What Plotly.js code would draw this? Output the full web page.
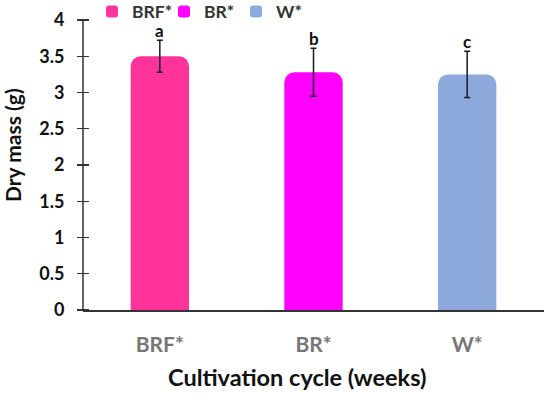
<!DOCTYPE html>
<html><head><meta charset="utf-8">
<script src="https://cdn.plot.ly/plotly-3.0.1.min.js"></script>
<style>html,body{margin:0;padding:0;background:#fff}#c{width:550px;height:393px}</style>
</head><body><div id="c"></div>
<script>
const categories = ["BRF*", "BR*", "W*"];
const values = [3.50, 3.28, 3.25];
const errors = [0.22, 0.33, 0.32];
const letters = ["a", "b", "c"];
const colors = ["#FF3399", "#FF00FF", "#8EA9DB"];
const yTicks = [0, 0.5, 1, 1.5, 2, 2.5, 3, 3.5, 4];
const yTickText = ["0", "0.5", "1", "1.5", "2", "2.5", "3", "3.5", "4"];
const xTitle = "Cultivation cycle (weeks)";
const yTitle = "Dry mass (g)";

const F = "Lato, 'Open Sans', sans-serif";
const H = 393, T = 20, B = 83, L = 83, R = 6;
const plotH = H - T - B, plotW = 550 - L - R;
const py = (pix) => (H - B - pix) / plotH; // pixel row -> paper y
const px = (pix) => (pix - L) / plotW;     // pixel column -> paper x

const traces = categories.map((c, i) => ({
  type: "bar", name: c, x: [c], y: [values[i]],
  marker: {color: colors[i], cornerradius: 10},
  error_y: {type: "data", array: [errors[i]], visible: true, color: "#1a1a2a", thickness: 1.5, width: 3},
  width: 0.38, hoverinfo: "skip"
}));
const annotations = categories.map((c, i) => ({
  x: c, y: values[i] + errors[i], xref: "x", yref: "y", text: "<b>" + letters[i] + "</b>",
  showarrow: false, yanchor: "bottom", yshift: -3, font: {family: F, size: 17, color: "#111"}
}));
annotations.push({
  x: px(297), y: py(377), xref: "paper", yref: "paper", text: "<b>" + xTitle + "</b>",
  showarrow: false, xanchor: "center", yanchor: "middle", font: {family: F, size: 23.5, color: "#111"}
});
annotations.push({
  x: px(12), y: py(145), xref: "paper", yref: "paper", text: "<b>" + yTitle + "</b>",
  textangle: -90, showarrow: false, xanchor: "center", yanchor: "middle", font: {family: F, size: 21, color: "#111"}
});
const layout = {
  width: 550, height: H,
  margin: {l: L, r: R, t: T, b: B, autoexpand: false},
  paper_bgcolor: "#fff", plot_bgcolor: "#fff",
  showlegend: true,
  legend: {orientation: "h", x: px(92), xanchor: "left", y: py(11.5), yanchor: "middle",
    font: {family: F, size: 17.5, color: "#333", weight: "bold"}, tracegroupgap: 0,
    entrywidth: 27, entrywidthmode: "pixels",
    bgcolor: "rgba(0,0,0,0)"},
  xaxis: {
    type: "category", categoryarray: categories, showline: true, linecolor: "#333", linewidth: 1.5,
    ticks: "", showgrid: false, zeroline: false, ticklabelstandoff: 15,
    tickfont: {family: F, size: 21, color: "#777", weight: "bold"}
  },
  yaxis: {
    anchor: "free", position: 0, shift: 6,
    range: [0, 4], tickvals: yTicks, ticktext: yTickText, showline: false,
    ticks: "outside", ticklen: 12, tickcolor: "#333", tickwidth: 1.2, showgrid: false, zeroline: false,
    tickfont: {family: F, size: 18, color: "#111", weight: "bold"}, ticklabelstandoff: 9
  },
  shapes: [{type: "line", xref: "paper", yref: "paper", x0: 0, x1: 0, y0: 0, y1: 1,
    line: {color: "#333", width: 1.5}, layer: "above"}],
  annotations: annotations
};
Plotly.newPlot("c", traces, layout, {staticPlot: true});
</script></body></html>
